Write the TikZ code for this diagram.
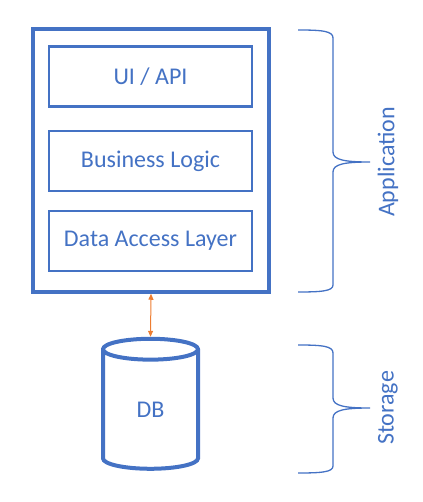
\documentclass[tikz,border=0pt]{standalone}
\usepackage{fontspec}
\setmainfont{Carlito}
\usetikzlibrary{positioning}
\usetikzlibrary{arrows.meta}
\usetikzlibrary{shapes.geometric}
\definecolor{c1}{RGB}{68, 114, 196}
\definecolor{c2}{RGB}{237, 125, 49}
\tikzset{
  outer/.style = {draw=c1, line width=3.5pt, minimum width=236pt, minimum height=263pt, inner sep=0pt},
  layer/.style = {draw=c1, line width=2.2pt, minimum width=203pt, minimum height=60pt, inner sep=0pt, text=c1, font=\fontsize{24}{28}\selectfont},
  store/.style = {cylinder, shape border rotate=90, aspect=0.75, draw=c1, line width=4pt, minimum width=95pt, minimum height=130pt, inner sep=0pt, text=c1, font=\fontsize{24}{28}\selectfont},
  bracket/.style = {c1, line width=1.3pt},
  side/.style = {rotate=90, text=c1, font=\fontsize{24}{28}\selectfont},
  link/.style = {{Triangle[length=6pt, width=5pt]}-{Triangle[length=6pt, width=5pt]}, c2, line width=1pt},
}

\begin{document}
\begin{tikzpicture}[x=1pt, y=-1pt]
    \useasboundingbox (0,0) rectangle (422,502);

    \node[outer] (app) at (151,160.5){};

    \node[layer] (ui) at (150.5,76.5){UI / API};

    \node[layer] (logic) at (150.5,161){Business Logic};

    \node[layer] (dal) at (150.5,241){Data Access Layer};

    \node[store] (db) at (150.5,410){DB};

    \draw[link] (app.south) -- (db.top);

    % braces
    \draw[bracket] (298,30) .. controls (322,30) and (333,31) .. (333,38) -- (333,152)
        .. controls (333,160) and (345,162) .. (370,162)
        .. controls (345,162) and (333,164) .. (333,172) -- (333,285)
        .. controls (333,291) and (322,292) .. (298,292);
    \draw[bracket] (298,345) .. controls (322,345) and (333,346) .. (333,353) -- (333,398)
        .. controls (333,406) and (345,408) .. (370,408)
        .. controls (345,408) and (333,410) .. (333,418) -- (333,466)
        .. controls (333,472) and (322,473) .. (298,473);

    \node[side] (application) at (388,162){Application};
    \node[side] (storage) at (388,408){Storage};

  \end{tikzpicture}
\end{document}
